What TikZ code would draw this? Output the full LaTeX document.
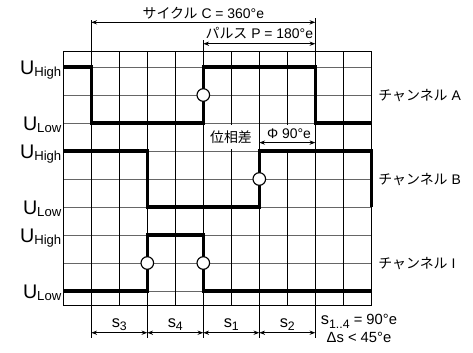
\documentclass[tikz,border=0pt]{standalone}
\usepackage{fontspec}
\setmainfont{Liberation Sans}
\newfontfamily\jp{Noto Sans CJK JP}
\usetikzlibrary{arrows.meta}
\newcommand{\ulev}[1]{{\fontsize{12}{14}\selectfont U}\raisebox{-0.8pt}{\fontsize{8}{9}\selectfont #1}}
\newcommand{\sidx}[1]{{\fontsize{10}{12}\selectfont s}\raisebox{-2pt}{\fontsize{7.5}{9}\selectfont #1}}
\tikzset{gridv/.style={line width=0.5pt,black},
  gridh/.style={line width=0.5pt,black!60},
  sigline/.style={line width=2.2pt,line join=miter},
  probe/.style={circle,draw,line width=0.7pt,fill=white,minimum size=2.7mm,inner sep=0pt},
  extline/.style={line width=0.5pt},
  dimline/.style={line width=0.5pt,{Stealth[length=3.5pt,width=2.6pt]}-{Stealth[length=3.5pt,width=2.6pt]}},
  txt/.style={font=\fontsize{8.5}{10}\selectfont,inner sep=0pt},
  ulabel/.style={inner sep=0pt,anchor=base east},
  chlabel/.style={txt,anchor=base west},
  slabel/.style={inner sep=0pt,anchor=base},
  phasebox/.style={txt,fill=white,inner xsep=1.5pt,anchor=base},
}
\begin{document}
\begin{tikzpicture}[x=0.6cm,y=0.6cm]
  \useasboundingbox (-2.261,-2.179) rectangle (14.632,10.393);
  % grid
  \foreach \y in {0,...,8} \draw[gridh] (0,\y) -- (11,\y);
  \foreach \x in {0,...,11} \draw[gridv] (\x,-0.525) -- (\x,8.571);
  \draw[gridv] (0,-0.525) rectangle (11,8.571);
  % phase labels
  \node[phasebox,text height=0.366cm,text depth=0.15cm] (phase) at (5.99,5.32) {\jp 位相差};
  \node[phasebox,text height=0.29cm,text depth=0.23cm] (phi) at (8.06,5.45) {Φ 90°e};
  \draw[gridv] (7,5) -- (7,6);
  \draw[gridv] (9,5) -- (9,6);
  % signals
  \draw[sigline] (0,8) -- (1,8) -- (1,6) -- (5,6) -- (5,8) -- (9,8) -- (9,6) -- (11,6);
  \draw[sigline] (0,5) -- (3,5) -- (3,3) -- (7,3) -- (7,5) -- (11,5) -- (11,3);
  \draw[sigline] (0,0) -- (3,0) -- (3,2) -- (5,2) -- (5,0) -- (11,0);
  \node[probe] (pa) at (5,7) {};
  \node[probe] (pb) at (7,4) {};
  \node[probe] (pi1) at (3,1) {};
  \node[probe] (pi2) at (5,1) {};
  % level labels
  \node[ulabel] (ahigh) at (-0.06,7.72) {\ulev{High}};
  \node[ulabel] (alow) at (-0.06,5.72) {\ulev{Low}};
  \node[ulabel] (bhigh) at (-0.06,4.72) {\ulev{High}};
  \node[ulabel] (blow) at (-0.06,2.72) {\ulev{Low}};
  \node[ulabel] (ihigh) at (-0.06,1.72) {\ulev{High}};
  \node[ulabel] (ilow) at (-0.06,-0.28) {\ulev{Low}};
  \node[chlabel] (cha) at (11.24,6.82) {{\jp チャンネル} A};
  \node[chlabel] (chb) at (11.24,3.82) {{\jp チャンネル} B};
  \node[chlabel] (chi) at (11.24,0.82) {{\jp チャンネル} I};
  % cycle and pulse
  \coordinate (cyc1) at (1,9.596);
  \coordinate (cyc9) at (9,9.596);
  \coordinate (pul5) at (5,8.832);
  \coordinate (pul9) at (9,8.832);
  \draw[extline] (1,8.571) -- (1,9.68);
  \draw[extline] (9,8.571) -- (9,9.75);
  \draw[extline] (5,8.571) -- (5,8.96);
  \draw[dimline] (cyc1) -- (cyc9);
  \draw[dimline] (pul5) -- (pul9);
  \node[txt,anchor=base] (cyclbl) at (5,9.74) {{\jp サイクル} C = 360°e};
  \node[txt,anchor=base] (pullbl) at (7,9.025) {{\jp パルス} P = 180°e};
  \coordinate (ph7) at (7,5.30);
  \coordinate (ph9) at (9,5.30);
  \draw[dimline] (ph7) -- (ph9);
  % steps
  \foreach \x in {1,3,5,7,9} {
    \draw[extline] (\x,-0.525) -- (\x,-1.68);
    \coordinate (s\x) at (\x,-1.49);
  }
  \draw[dimline] (s1) -- (s3);
  \draw[dimline] (s3) -- (s5);
  \draw[dimline] (s5) -- (s7);
  \draw[dimline] (s7) -- (s9);
  \node[slabel] (sthree) at (2,-1.30) {\sidx{3}};
  \node[slabel] (sfour) at (4,-1.30) {\sidx{4}};
  \node[slabel] (sone) at (6,-1.30) {\sidx{1}};
  \node[slabel] (stwo) at (8,-1.30) {\sidx{2}};
  \node[slabel] (srange) at (10.56,-1.21) {\sidx{1..4}{\fontsize{9}{11}\selectfont\ = 90°e}};
  \node[slabel] (sdev) at (10.56,-1.85) {\fontsize{9}{11}\selectfont Δs < 45°e};
\end{tikzpicture}
\end{document}
